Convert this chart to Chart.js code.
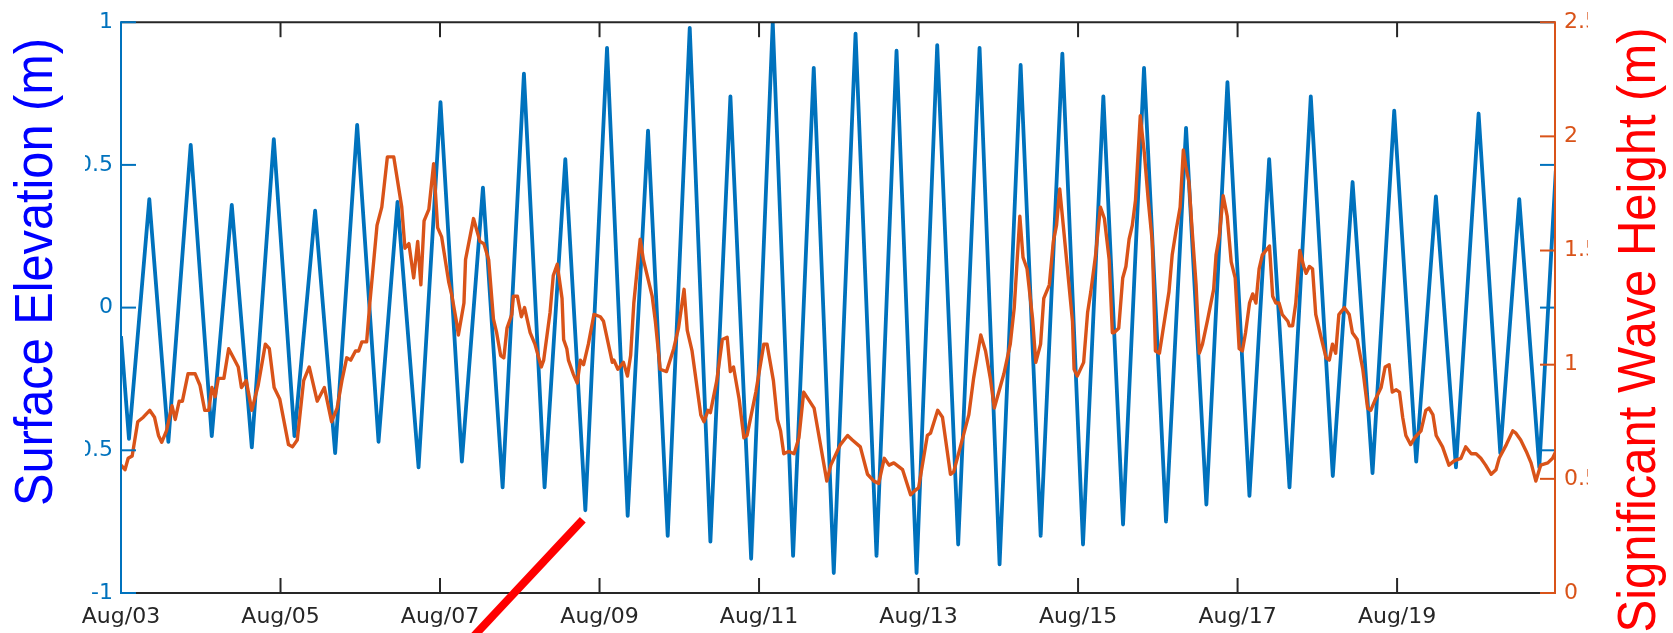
<!DOCTYPE html>
<html>
<head>
<meta charset="utf-8">
<script src="https://cdn.jsdelivr.net/npm/chart.js@4.4.0/dist/chart.umd.min.js"></script>
<style>
  html, body { margin: 0; padding: 0; background: #fff; }
</style>
</head>
<body>
<canvas id="chart-item" width="1673" height="633"></canvas>
<script>
// values, time in days after Aug/03 00:00

// surface elevation (m), turning points of the tide
var tideDays = [0, 0.10, 0.355, 0.594, 0.874, 1.138, 1.389, 1.640, 1.916, 2.175, 2.434, 2.685, 2.961, 3.229, 3.467, 3.731,
    4.006, 4.274, 4.538, 4.785, 5.052, 5.311, 5.571, 5.822, 6.094, 6.353, 6.608, 6.855, 7.131, 7.390, 7.641, 7.901,
    8.172, 8.427, 8.686, 8.937, 9.210, 9.473, 9.724, 9.975, 10.234, 10.497, 10.765, 11.016, 11.280, 11.531, 11.803,
    12.062, 12.317, 12.564, 12.827, 13.103, 13.354, 13.609, 13.873, 14.149, 14.396, 14.651, 14.918, 15.194, 15.442,
    15.692, 15.964, 16.240, 16.487, 16.738, 17.022, 17.294, 17.532, 17.783, 17.99]
var tideElev = [-0.10, -0.46, 0.38, -0.47, 0.57, -0.45, 0.36, -0.49, 0.59, -0.45, 0.34, -0.51, 0.64, -0.47, 0.37, -0.56,
    0.72, -0.54, 0.42, -0.63, 0.82, -0.63, 0.52, -0.71, 0.91, -0.73, 0.62, -0.80, 0.98, -0.82, 0.74, -0.88,
    1.00, -0.87, 0.84, -0.93, 0.96, -0.87, 0.90, -0.93, 0.92, -0.83, 0.91, -0.90, 0.85, -0.80, 0.89,
    -0.83, 0.74, -0.76, 0.84, -0.75, 0.63, -0.69, 0.79, -0.66, 0.52, -0.63, 0.74, -0.59, 0.44,
    -0.58, 0.69, -0.54, 0.39, -0.56, 0.68, -0.51, 0.38, -0.56, 0.48]

// significant wave height (m)
var waveDays = [0.00, 0.05, 0.09, 0.14, 0.21, 0.28, 0.36, 0.42, 0.47, 0.51, 0.57, 0.64, 0.68, 0.73, 0.77, 0.84, 0.93, 0.99,
    1.05, 1.10, 1.14, 1.18, 1.22, 1.29, 1.35, 1.41, 1.47, 1.51, 1.57, 1.64, 1.72, 1.81, 1.86, 1.92, 1.99,
    2.10, 2.15, 2.21, 2.29, 2.36, 2.46, 2.55, 2.64, 2.71, 2.77, 2.83, 2.88, 2.94, 2.98,
    3.02, 3.08, 3.12, 3.21, 3.27, 3.34, 3.42, 3.52, 3.56, 3.61, 3.67, 3.72, 3.76, 3.80, 3.86, 3.92, 3.97,
    4.02, 4.11, 4.15, 4.21, 4.23, 4.30, 4.32, 4.42, 4.50, 4.55, 4.61, 4.67, 4.71, 4.76, 4.80, 4.84, 4.90, 4.92, 4.97,
    5.02, 5.06, 5.13, 5.19, 5.27, 5.30, 5.38, 5.42, 5.47, 5.53, 5.55, 5.59, 5.61, 5.67, 5.72, 5.76, 5.80, 5.86, 5.93,
    6.01, 6.05, 6.16, 6.18, 6.23, 6.30, 6.35, 6.39, 6.43, 6.51, 6.55, 6.66, 6.70, 6.76, 6.84, 6.93, 6.99,
    7.06, 7.10, 7.16, 7.27, 7.31, 7.36, 7.39, 7.47, 7.54, 7.60, 7.64, 7.68, 7.75, 7.81, 7.85, 7.96,
    8.06, 8.10, 8.18, 8.23, 8.27, 8.31, 8.37, 8.44, 8.50, 8.56, 8.69, 8.85, 8.90,
    9.02, 9.11, 9.17, 9.27, 9.36, 9.44, 9.50, 9.57, 9.63, 9.69, 9.80, 9.90, 9.96,
    10.00, 10.11, 10.15, 10.24, 10.30, 10.40, 10.44, 10.57, 10.63, 10.69, 10.78, 10.84, 10.90, 10.95,
    11.07, 11.15, 11.20, 11.27, 11.31, 11.36, 11.43, 11.47, 11.53, 11.57, 11.64, 11.69, 11.73, 11.77, 11.82, 11.93, 11.95, 11.99,
    12.07, 12.12, 12.16, 12.22, 12.28, 12.33, 12.39, 12.43, 12.45, 12.51, 12.56, 12.60, 12.64, 12.68, 12.72, 12.78, 12.83, 12.88, 12.93, 12.97,
    13.02, 13.06, 13.14, 13.18, 13.23, 13.28, 13.32, 13.35, 13.39, 13.43, 13.48, 13.52, 13.56, 13.62, 13.70, 13.73, 13.77, 13.82, 13.87, 13.92, 13.97,
    14.02, 14.06, 14.10, 14.15, 14.19, 14.23, 14.27, 14.31, 14.40, 14.44, 14.48, 14.52, 14.56, 14.63, 14.65, 14.69, 14.73, 14.78, 14.83, 14.86, 14.90, 14.94, 14.98,
    15.04, 15.11, 15.15, 15.19, 15.23, 15.27, 15.34, 15.40, 15.44, 15.50, 15.57, 15.63, 15.67, 15.73, 15.80, 15.85, 15.90, 15.94, 15.99,
    16.03, 16.07, 16.11, 16.17, 16.22, 16.30, 16.36, 16.40, 16.45, 16.49, 16.57, 16.65, 16.72, 16.80, 16.86, 16.93, 16.99,
    17.05, 17.11, 17.18, 17.24, 17.28, 17.37, 17.45, 17.49, 17.55, 17.62, 17.68, 17.74, 17.80, 17.89, 17.95, 17.99]
var waveHs = [0.56, 0.54, 0.59, 0.60, 0.75, 0.77, 0.80, 0.77, 0.69, 0.66, 0.71, 0.82, 0.76, 0.84, 0.84, 0.96, 0.96, 0.91,
    0.80, 0.80, 0.90, 0.86, 0.94, 0.94, 1.07, 1.03, 0.99, 0.90, 0.93, 0.80, 0.91, 1.09, 1.07, 0.90, 0.85,
    0.65, 0.64, 0.67, 0.93, 0.99, 0.84, 0.90, 0.75, 0.81, 0.93, 1.03, 1.02, 1.06, 1.06,
    1.10, 1.10, 1.27, 1.61, 1.69, 1.91, 1.91, 1.69, 1.51, 1.53, 1.38, 1.54, 1.35, 1.63, 1.68, 1.88, 1.60,
    1.56, 1.36, 1.30, 1.18, 1.13, 1.27, 1.46, 1.64, 1.54, 1.53, 1.46, 1.20, 1.14, 1.04, 1.03, 1.16, 1.22, 1.30, 1.30,
    1.21, 1.25, 1.14, 1.09, 0.99, 1.02, 1.23, 1.39, 1.44, 1.29, 1.11, 1.07, 1.02, 0.96, 0.92, 1.02, 1.00, 1.09, 1.22,
    1.21, 1.19, 1.01, 1.02, 0.98, 1.01, 0.95, 1.04, 1.27, 1.55, 1.46, 1.30, 1.19, 0.98, 0.97, 1.07, 1.16,
    1.33, 1.15, 1.06, 0.78, 0.75, 0.80, 0.79, 0.93, 1.11, 1.12, 0.97, 0.99, 0.85, 0.68, 0.69, 0.88,
    1.09, 1.09, 0.93, 0.76, 0.71, 0.61, 0.62, 0.61, 0.68, 0.88, 0.81, 0.49, 0.56,
    0.65, 0.69, 0.67, 0.64, 0.52, 0.49, 0.48, 0.59, 0.56, 0.57, 0.54, 0.43, 0.45,
    0.46, 0.69, 0.70, 0.80, 0.77, 0.52, 0.53, 0.70, 0.78, 0.94, 1.13, 1.06, 0.94, 0.81,
    0.96, 1.09, 1.25, 1.65, 1.47, 1.42, 1.20, 1.01, 1.09, 1.29, 1.35, 1.54, 1.61, 1.77, 1.59, 1.19, 0.98, 0.95,
    1.01, 1.23, 1.32, 1.48, 1.69, 1.64, 1.46, 1.14, 1.14, 1.16, 1.38, 1.43, 1.55, 1.61, 1.72, 2.09, 1.93, 1.72, 1.54, 1.06,
    1.05, 1.14, 1.32, 1.48, 1.59, 1.69, 1.94, 1.87, 1.80, 1.59, 1.35, 1.05, 1.09, 1.19, 1.33, 1.48, 1.56, 1.74, 1.65, 1.45, 1.38,
    1.07, 1.06, 1.14, 1.27, 1.31, 1.27, 1.42, 1.48, 1.52, 1.30, 1.27, 1.27, 1.22, 1.19, 1.17, 1.17, 1.27, 1.50, 1.43, 1.40, 1.43, 1.42, 1.22,
    1.13, 1.03, 1.02, 1.09, 1.05, 1.22, 1.25, 1.22, 1.14, 1.11, 0.98, 0.81, 0.80, 0.85, 0.90, 0.99, 1.00, 0.88, 0.89,
    0.88, 0.77, 0.69, 0.65, 0.68, 0.71, 0.80, 0.81, 0.78, 0.69, 0.64, 0.56, 0.58, 0.59, 0.64, 0.61, 0.61,
    0.59, 0.56, 0.52, 0.54, 0.59, 0.65, 0.71, 0.70, 0.67, 0.62, 0.57, 0.49, 0.56, 0.57, 0.59, 0.62]

var xTickDays = [0, 2, 4, 6, 8, 10, 12, 14, 16]
var xTickLabels = ['Aug/03', 'Aug/05', 'Aug/07', 'Aug/09', 'Aug/11', 'Aug/13', 'Aug/15', 'Aug/17', 'Aug/19']
var leftTicks = [-1, -0.5, 0, 0.5, 1]
var rightTicks = [0, 0.5, 1, 1.5, 2, 2.5]

// red pointer stroke, in (day, elevation)
var pointerFrom = [5.79, -0.743]
var pointerTo = [4.15, -1.233]

var tickFont = { family: 'DejaVu Sans', size: 22 }

function toPoints(xs, ys) {
    return xs.map(function (d, i) {
        return { x: d, y: ys[i] }
    })
}

function seg(ctx, x1, y1, x2, y2) {
    ctx.beginPath()
    ctx.moveTo(x1, y1)
    ctx.lineTo(x2, y2)
    ctx.stroke()
}

function drawTitle(ctx, text, x, y, len, color) {
    ctx.save()
    ctx.font = '54px "Liberation Sans Narrow", "Liberation Sans", sans-serif'
    var w = ctx.measureText(text).width
    ctx.translate(x, y)
    ctx.rotate(-Math.PI / 2)
    ctx.scale(len / w, 1)
    ctx.textAlign = 'center'
    ctx.textBaseline = 'alphabetic'
    ctx.fillStyle = color
    ctx.fillText(text, 0, 0)
    ctx.restore()
}

// box, inward ticks, titles
const boxPlugin = {
    id: 'box',
    afterDraw(chart) {
        const ctx = chart.ctx
        const a = chart.chartArea
        const sx = chart.scales.x, yl = chart.scales.y, yr = chart.scales.y1
        const tl = 15
        ctx.save()
        ctx.lineWidth = 2
        ctx.lineCap = 'butt'

        ctx.strokeStyle = '#262626'
        seg(ctx, a.left, a.top, a.right, a.top)
        seg(ctx, a.left, a.bottom, a.right, a.bottom)
        xTickDays.forEach(function (d) {
            var px = sx.getPixelForValue(d)
            seg(ctx, px, a.bottom, px, a.bottom - tl)
            seg(ctx, px, a.top, px, a.top + tl)
        })

        ctx.strokeStyle = '#0072BD'
        seg(ctx, a.left, a.top - 1, a.left, a.bottom + 1)
        leftTicks.forEach(function (v) {
            var py = yl.getPixelForValue(v)
            seg(ctx, a.left, py, a.left + tl, py)
            seg(ctx, a.right, py, a.right - tl, py)
        })

        ctx.strokeStyle = '#D95319'
        seg(ctx, a.right, a.top - 1, a.right, a.bottom + 1)
        rightTicks.forEach(function (v) {
            var py = yr.getPixelForValue(v)
            seg(ctx, a.right, py, a.right - tl, py)
        })

        // the titles hide part of the tick labels
        ctx.fillStyle = '#fff'
        ctx.fillRect(0, 0, 85, a.bottom + 5)
        ctx.fillRect(1588, 0, chart.width - 1588, chart.height)

        drawTitle(ctx, 'Surface Elevation (m)', 52, 272, 468, '#0000FF')
        drawTitle(ctx, 'Significant Wave Height (m)', 1655, 330, 605, '#FF0000')

        ctx.strokeStyle = '#FF0000'
        ctx.lineWidth = 8
        seg(ctx, sx.getPixelForValue(pointerFrom[0]), yl.getPixelForValue(pointerFrom[1]),
            sx.getPixelForValue(pointerTo[0]), yl.getPixelForValue(pointerTo[1]))
        ctx.restore()
    }
}

const ctx = document.getElementById('chart-item').getContext('2d')
const myChart = new Chart(ctx, {
    type: 'line',
    data: {
        datasets: [{
            label: 'Significant Wave Height',
            data: toPoints(waveDays, waveHs),
            yAxisID: 'y1',
            borderColor: '#D95319',
            borderWidth: 3.4,
            pointRadius: 0,
            order: 1
        }, {
            label: 'Surface Elevation',
            data: toPoints(tideDays, tideElev),
            yAxisID: 'y',
            borderColor: '#0072BD',
            borderWidth: 3.8,
            pointRadius: 0,
            order: 2
        }]
    },
    options: {
        responsive: false,
        animation: false,
        devicePixelRatio: 1,
        layout: { padding: { top: 18, left: 0, right: 0, bottom: 0 } },
        elements: { line: { tension: 0, borderJoinStyle: 'round' } },
        plugins: { legend: { display: false }, tooltip: { enabled: false } },
        scales: {
            x: {
                type: 'linear',
                min: 0,
                max: 17.98,
                grid: { display: false, drawTicks: false },
                border: { display: false },
                afterBuildTicks: function (s) { s.ticks = xTickDays.map(function (v) { return { value: v } }) },
                afterFit: function (s) { s.height = 40 },
                ticks: {
                    padding: 11,
                    color: '#262626',
                    font: tickFont,
                    maxRotation: 0,
                    autoSkip: false,
                    callback: function (v, i) { return xTickLabels[i] }
                }
            },
            y: {
                position: 'left',
                min: -1,
                max: 1,
                grid: { display: false, drawTicks: false },
                border: { display: false },
                afterBuildTicks: function (s) { s.ticks = leftTicks.map(function (v) { return { value: v } }) },
                afterFit: function (s) { s.width = 121 },
                ticks: { padding: 8, color: '#0072BD', font: tickFont, callback: function (v) { return String(v) } }
            },
            y1: {
                position: 'right',
                min: 0,
                max: 2.5,
                grid: { display: false, drawTicks: false },
                border: { display: false },
                afterBuildTicks: function (s) { s.ticks = rightTicks.map(function (v) { return { value: v } }) },
                afterFit: function (s) { s.width = 118 },
                ticks: { padding: 9, color: '#D95319', font: tickFont, callback: function (v) { return String(v) } }
            }
        }
    },
    plugins: [boxPlugin]
})
</script>
</body>
</html>
